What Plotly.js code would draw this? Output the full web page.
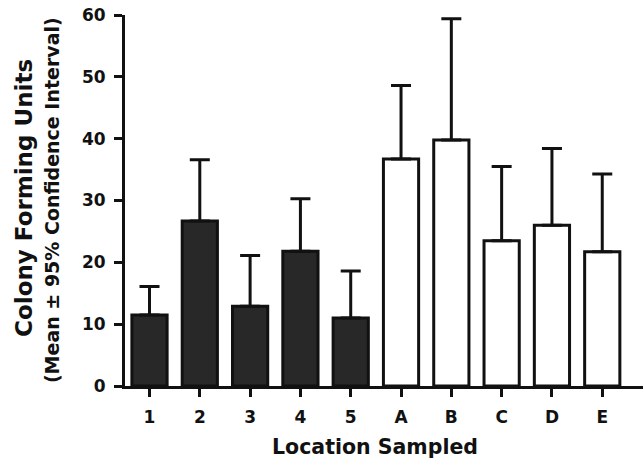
<!DOCTYPE html>
<html>
<head>
<meta charset="utf-8">
<script src="https://cdn.plot.ly/plotly-3.0.1.min.js"></script>
<style>html,body{margin:0;padding:0;background:#fff;}#chart{width:643px;height:462px;}</style>
</head>
<body>
<div id="chart"></div>
<script>
// Data
const locations = ["1", "2", "3", "4", "5", "A", "B", "C", "D", "E"];
const meanCFU = [11.5, 26.7, 12.9, 21.8, 11.0, 36.7, 39.8, 23.5, 26.0, 21.7];
const upperCI = [16.1, 36.6, 21.1, 30.3, 18.6, 48.6, 59.4, 35.5, 38.4, 34.3];
const barColors = ["#282828", "#282828", "#282828", "#282828", "#282828",
                   "#ffffff", "#ffffff", "#ffffff", "#ffffff", "#ffffff"];
const yTicks = [0, 10, 20, 30, 40, 50, 60];

const errPlus = upperCI.map((u, i) => u - meanCFU[i]);
const errMinus = meanCFU.map(() => 0);

const font = "DejaVu Sans, Liberation Sans, Arial, sans-serif";

const trace = {
  type: "bar",
  x: locations,
  y: meanCFU,
  width: 0.7,
  marker: { color: barColors, line: { color: "#111", width: 3 } },
  error_y: {
    type: "data", symmetric: false,
    array: errPlus, arrayminus: errMinus,
    color: "#111", thickness: 3, width: 10
  },
  hoverinfo: "skip"
};

const layout = {
  width: 643, height: 462,
  margin: { l: 125, r: 0, t: 15, b: 76, pad: 0 },
  paper_bgcolor: "#fff", plot_bgcolor: "#fff",
  showlegend: false,
  font: { family: font, color: "#111" },
  xaxis: {
    type: "category",
    range: [-0.487, 9.81],
    showline: true, linecolor: "#111", linewidth: 3,
    ticks: "outside", ticklen: 8, tickwidth: 3, tickcolor: "#111",
    tickfont: { family: font, size: 17, color: "#111", weight: "bold" },
    ticklabelstandoff: 6,
    showgrid: false, zeroline: false, fixedrange: true
  },
  yaxis: {
    range: [0, 60],
    tickvals: yTicks,
    showline: true, linecolor: "#111", linewidth: 3,
    ticks: "outside", ticklen: 8, tickwidth: 3, tickcolor: "#111",
    tickfont: { family: font, size: 17, color: "#111", weight: "bold" },
    ticklabelstandoff: 5,
    showgrid: false, zeroline: false, fixedrange: true
  },
  annotations: [
    { text: "<b>Location Sampled</b>", xref: "paper", yref: "paper",
      x: 0.483, y: -0.165, xanchor: "center", yanchor: "middle",
      showarrow: false, font: { family: font, size: 20.5, color: "#111" } },
    { text: "<b>Colony Forming Units</b>", xref: "paper", yref: "paper",
      x: -0.195, y: 0.507, xanchor: "center", yanchor: "middle", textangle: -90,
      showarrow: false, font: { family: font, size: 23, color: "#111" } },
    { text: "<b>(Mean ± 95% Confidence Interval)</b>", xref: "paper", yref: "paper",
      x: -0.141, y: 0.501, xanchor: "center", yanchor: "middle", textangle: -90,
      showarrow: false, font: { family: font, size: 19, color: "#111" } }
  ]
};

Plotly.newPlot("chart", [trace], layout, { displayModeBar: false, staticPlot: true });
</script>
</body>
</html>
